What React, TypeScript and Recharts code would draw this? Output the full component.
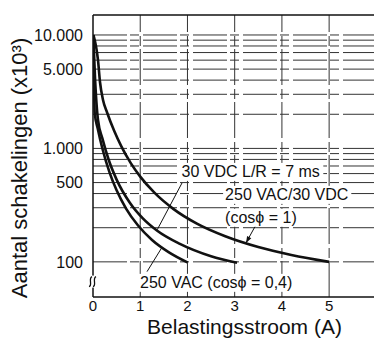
import React from "react";
import { LineChart, Line, XAxis, YAxis, ReferenceLine, ReferenceDot } from "recharts";

const FONT = '"Liberation Sans", Arial, Helvetica, sans-serif';
const INK = "#111";

// axis ticks
const xTicks = [0, 1, 2, 3, 4, 5];
const yTicks = [100, 500, 1000, 5000, 10000];
const yTickLabels = ["100", "500", "1.000", "5.000", "10.000"];

// log grid
const gridY = [100, 200, 300, 400, 500, 600, 700, 800, 900, 1000, 2000, 3000, 4000, 5000, 6000, 7000, 8000, 9000, 10000];
const gridX = [1, 2, 3, 4, 5];

// 250 VAC/30 VDC (cos phi = 1)
const cos1X = [0.01, 0.106, 0.148, 0.212, 0.3, 0.45, 0.6, 0.8, 1.0, 1.3, 1.7, 2.2, 2.8, 3.5, 4.2, 5.0];
const cos1Y = [10000, 6000, 3850, 2675, 2064, 1423, 1043, 742, 564, 407, 293, 217, 168, 135, 115, 100];

// 30 VDC L/R = 7 ms
const vdcX = [0.006, 0.04, 0.106, 0.2, 0.33, 0.5, 0.78, 1.05, 1.36, 1.84, 2.5, 3.05];
const vdcY = [10000, 4440, 1780, 1218, 798, 531, 332, 243, 188, 144, 112, 98];

// 250 VAC (cos phi = 0,4)
const cos04X = [0.004, 0.017, 0.036, 0.1, 0.2, 0.35, 0.5, 0.7, 0.95, 1.25, 1.6, 2.0];
const cos04Y = [10000, 4920, 2055, 1500, 994, 615, 427, 295, 210, 156, 122, 99];

// annotations
const annoText = ["30 VDC L/R = 7 ms", "250 VAC/30 VDC", "(cosϕ = 1)", "250 VAC (cosϕ = 0,4)"];
const annoX = [1.875, 2.797, 2.797, 0.996];
const annoY = [561, 352, 221, 59];

// leader lines [x1, y1, x2, y2]
const leaderVdc = [1.886, 497, 1.36, 192];
const leaderCos1 = [3.44, 208, 3.24, 147];
const leaderCos04 = [1.144, 82, 1.46, 134];

const toPoints = (xs: number[], ys: number[]) => xs.map((x, i) => ({ x, y: ys[i] }));

const charW = (c: string) => {
  if (/[0-9]/.test(c)) return 8.9;
  if (c === " ") return 4.45;
  if ("MWm".includes(c)) return 13.3;
  if (/[A-Z]/.test(c)) return 11;
  if ("il,./()".includes(c)) return 4.8;
  if (c === "=") return 9.3;
  if (c === "ϕ") return 10;
  return 8.4;
};
const textW = (s: string) => s.split("").reduce((a, c) => a + charW(c), 0);

const Anno = (props: any) => {
  const { cx, cy, text } = props;
  const w = textW(text);
  return (
    <g>
      <rect x={cx - 2} y={cy - 14} width={w + 4} height={18} fill="#fff" />
      <text x={cx} y={cy} fontSize={16} fontFamily={FONT} fill={INK}>
        {text}
      </text>
    </g>
  );
};

const BreakMark = (props: any) => {
  const { cx, cy } = props;
  return (
    <g>
      <rect x={cx - 4} y={cy - 6} width={8} height={12} fill="#fff" />
      <path d={`M${cx - 4},${cy + 5} C${cx},${cy + 4} ${cx - 5},${cy - 3} ${cx - 1},${cy - 5}`} stroke={INK} strokeWidth={1.3} fill="none" />
      <path d={`M${cx},${cy + 5} C${cx + 4},${cy + 4} ${cx - 1},${cy - 3} ${cx + 3},${cy - 5}`} stroke={INK} strokeWidth={1.3} fill="none" />
    </g>
  );
};

const ArrowLine = (props: any) => {
  const { x1, y1, x2, y2 } = props;
  const ang = Math.atan2(y2 - y1, x2 - x1);
  const L = 7;
  const s = 0.35;
  const p1 = `${x2},${y2}`;
  const p2 = `${x2 - L * Math.cos(ang - s)},${y2 - L * Math.sin(ang - s)}`;
  const p3 = `${x2 - L * Math.cos(ang + s)},${y2 - L * Math.sin(ang + s)}`;
  return (
    <g>
      <line x1={x1} y1={y1} x2={x2} y2={y2} stroke={INK} strokeWidth={1} />
      <polygon points={`${p1} ${p2} ${p3}`} fill={INK} />
    </g>
  );
};

const seg = (l: number[]) => [
  { x: l[0], y: l[1] },
  { x: l[2], y: l[3] },
];

export default function App() {
  return (
    <div style={{ position: "absolute", left: 0, top: 0, background: "#fff" }}>
      <LineChart width={374} height={338} margin={{ top: 15, right: 0, bottom: 0, left: 0 }}>
        <XAxis
          type="number"
          dataKey="x"
          domain={[0, 5.95]}
          allowDataOverflow
          ticks={xTicks}
          height={41}
          tickLine={false}
          tickSize={3}
          tickMargin={0}
          axisLine={{ stroke: INK, strokeWidth: 1.5 }}
          tick={{ fontSize: 15, fill: INK, fontFamily: FONT }}
          label={{
            content: (p: any) => {
              const vb = p.viewBox || { x: 93, y: 297, width: 281, height: 41 };
              return (
                <text x={vb.x + vb.width / 2 + 11} y={333.5} textAnchor="middle" fontSize={21} fontFamily={FONT} fill={INK}>
                  Belastingsstroom (A)
                </text>
              );
            },
          }}
        />
        <YAxis
          type="number"
          dataKey="y"
          scale="log"
          domain={[49, 15000]}
          allowDataOverflow
          ticks={yTicks}
          width={93}
          tickLine={false}
          tickSize={6}
          tickMargin={4}
          tickFormatter={(v: number) => yTickLabels[yTicks.indexOf(v)] ?? String(v)}
          axisLine={{ stroke: INK, strokeWidth: 1.5 }}
          tick={{ fontSize: 16, fill: INK, fontFamily: FONT }}
          label={{
            content: () => (
              <text x={27} y={168} transform="rotate(-90, 27, 168)" textAnchor="middle" fontSize={22} fontFamily={FONT} fill={INK}>
                Aantal schakelingen (x10³)
              </text>
            ),
          }}
        />
        {gridY.map((v) => (
          <ReferenceLine key={"gy" + v} y={v} stroke="#333" strokeWidth={1} strokeDasharray="34 3 9 4" ifOverflow="visible" />
        ))}
        {gridX.map((v) => (
          <ReferenceLine key={"gx" + v} x={v} stroke="#333" strokeWidth={1} strokeDasharray="36 3 10 4" ifOverflow="visible" />
        ))}
        <ReferenceLine y={15000} stroke={INK} strokeWidth={1.5} ifOverflow="visible" />

        {annoText.map((t, i) => (
          <ReferenceDot
            key={"a" + i}
            x={annoX[i]}
            y={annoY[i]}
            ifOverflow="visible"
            shape={(p: any) => <Anno cx={p.cx} cy={p.cy} text={t} />}
          />
        ))}

        <ReferenceLine segment={seg(leaderVdc)} stroke={INK} strokeWidth={1} ifOverflow="visible" />
        <ReferenceLine segment={seg(leaderCos04)} stroke={INK} strokeWidth={1} ifOverflow="visible" />
        <ReferenceLine segment={seg(leaderCos1)} ifOverflow="visible" shape={(p: any) => <ArrowLine {...p} />} />

        <Line data={toPoints(cos1X, cos1Y)} dataKey="y" type="monotone" dot={false} stroke={INK} strokeWidth={2.6} isAnimationActive={false} />
        <Line data={toPoints(vdcX, vdcY)} dataKey="y" type="monotone" dot={false} stroke={INK} strokeWidth={2.6} isAnimationActive={false} />
        <Line data={toPoints(cos04X, cos04Y)} dataKey="y" type="monotone" dot={false} stroke={INK} strokeWidth={2.6} isAnimationActive={false} />

        <ReferenceDot x={0} y={67} ifOverflow="visible" shape={(p: any) => <BreakMark cx={p.cx} cy={p.cy} />} />
      </LineChart>
    </div>
  );
}
